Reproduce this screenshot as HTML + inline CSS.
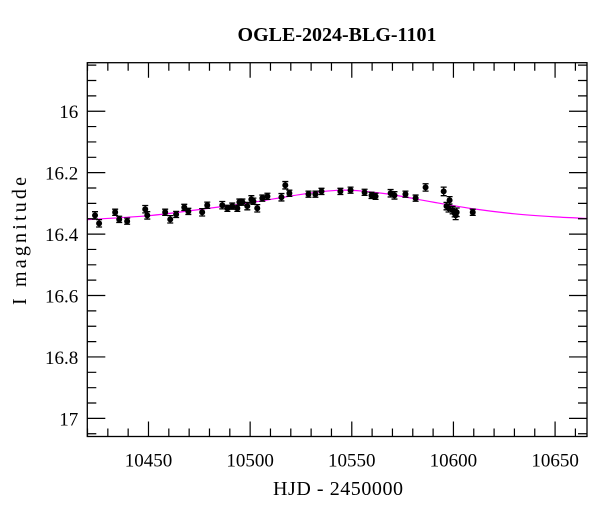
<!DOCTYPE html>
<html><head><meta charset="utf-8"><style>
html,body{margin:0;padding:0;background:#fff;width:600px;height:512px;overflow:hidden}
svg text{font-family:"Liberation Serif",serif;fill:#000}
</style></head><body>
<svg id="chart" width="600" height="512" xmlns="http://www.w3.org/2000/svg">
<text x="337" y="41" font-size="20" font-weight="bold" text-anchor="middle">OGLE-2024-BLG-1101</text>
<text x="338" y="495" font-size="20" font-weight="bold" text-anchor="middle" style="font-weight:normal" textLength="130">HJD - 2450000</text>
<text x="26" y="241" font-size="20" text-anchor="middle" transform="rotate(-90 26 241)" textLength="128">I magnitude</text>
<g id="plot"></g>
</svg>
<script>
const hjd = [10423.7,10425.7,10433.6,10435.6,10439.5,10448.4,10449.4,10458.2,10460.7,10463.6,10467.6,10469.6,10476.4,10478.9,10486.3,10488.8,10491.2,10493.7,10494.7,10496.2,10498.6,10500.6,10501.6,10503.5,10506.0,10508.5,10515.4,10517.3,10519.3,10528.7,10532.1,10535.1,10544.4,10549.4,10556.3,10559.7,10561.7,10569.1,10571.0,10576.4,10581.4,10586.3,10595.2,10598.1,10596.6,10597.6,10599.6,10600.6,10601.6,10601.1,10609.5];
const mag = [16.339,16.365,16.329,16.352,16.358,16.319,16.339,16.329,16.352,16.336,16.313,16.326,16.329,16.306,16.306,16.316,16.309,16.316,16.296,16.296,16.309,16.287,16.293,16.316,16.283,16.277,16.280,16.241,16.267,16.270,16.270,16.261,16.261,16.257,16.264,16.274,16.277,16.267,16.274,16.270,16.283,16.248,16.261,16.290,16.309,16.316,16.322,16.332,16.329,16.339,16.329];
const errs = [0.012,0.012,0.010,0.010,0.010,0.012,0.012,0.010,0.012,0.010,0.010,0.010,0.012,0.010,0.012,0.010,0.010,0.010,0.010,0.010,0.012,0.012,0.010,0.012,0.010,0.010,0.012,0.012,0.010,0.010,0.010,0.010,0.010,0.010,0.010,0.010,0.010,0.012,0.012,0.010,0.010,0.012,0.014,0.012,0.012,0.012,0.012,0.012,0.014,0.014,0.010];
const modelT = [10420,10450,10475,10500,10520,10535,10545,10555,10570,10590,10610,10630,10650,10666];
const modelM = [16.353,16.340,16.320,16.298,16.276,16.262,16.257,16.260,16.272,16.296,16.318,16.334,16.344,16.349];
const xTicks = [10450,10500,10550,10600,10650];
const yTicks = [16,16.2,16.4,16.6,16.8,17];

const L=87.3,R=587,T=62.7,B=436.5;
const X0=10419.9,X1=10665.7,Y0=15.842,Y1=17.059;
const sx=v=>L+(v-X0)/(X1-X0)*(R-L);
const sy=v=>T+(v-Y0)/(Y1-Y0)*(B-T);
const NS="http://www.w3.org/2000/svg";
const g=document.getElementById('plot');
function mk(tag,attrs){const e=document.createElementNS(NS,tag);for(const k in attrs)e.setAttribute(k,attrs[k]);g.appendChild(e);return e;}

let pts=modelT.map((t,i)=>[sx(t),sy(modelM[i])]);
let d='M'+pts[0][0]+','+pts[0][1];
for(let i=0;i<pts.length-1;i++){const p0=pts[Math.max(0,i-1)],p1=pts[i],p2=pts[i+1],p3=pts[Math.min(pts.length-1,i+2)];
d+=` C${p1[0]+(p2[0]-p0[0])/6},${p1[1]+(p2[1]-p0[1])/6} ${p2[0]-(p3[0]-p1[0])/6},${p2[1]-(p3[1]-p1[1])/6} ${p2[0]},${p2[1]}`;}
const curve=mk('path',{d:d,fill:'none',stroke:'#ff00ff','stroke-width':1.2});



hjd.forEach((t,i)=>{
  const x=sx(t),y=sy(mag[i]),e=errs[i]*(B-T)/(Y1-Y0);
  const eb=mk('path',{d:`M${x},${y-e}V${y+e}M${x-3},${y-e}H${x+3}M${x-3},${y+e}H${x+3}`,stroke:'#000','stroke-width':1.3,fill:'none'});
  
  
  const c=mk('circle',{cx:x,cy:y,r:3,fill:'#000'});
  
  
});

const fr=mk('rect',{x:L,y:T,width:R-L,height:B-T,fill:'none',stroke:'#000','stroke-width':1.3});



let td='';
for(let v=10420;v<=10665;v+=10){const x=sx(v),len=(v%50===0)?15:8;td+=`M${x},${B}v${-len}M${x},${T}v${len}`;}
for(let v=15.85;v<=17.06;v+=0.05){const vv=Math.round(v*100)/100;const y=sy(vv);const maj=Math.abs(vv*5-Math.round(vv*5))<1e-6;const len=maj?18:9;td+=`M${L},${y}h${len}M${R},${y}h${-len}`;}
const tk=mk('path',{d:td,stroke:'#000','stroke-width':1.2,fill:'none'});



xTicks.forEach(v=>{const t=mk('text',{x:sx(v),y:B+30,'font-size':19,'text-anchor':'middle'});t.textContent=v;

});
yTicks.forEach(v=>{const t=mk('text',{x:L-9,y:sy(v)+7,'font-size':19,'text-anchor':'end'});t.textContent=v;

});
</script>
</body></html>
